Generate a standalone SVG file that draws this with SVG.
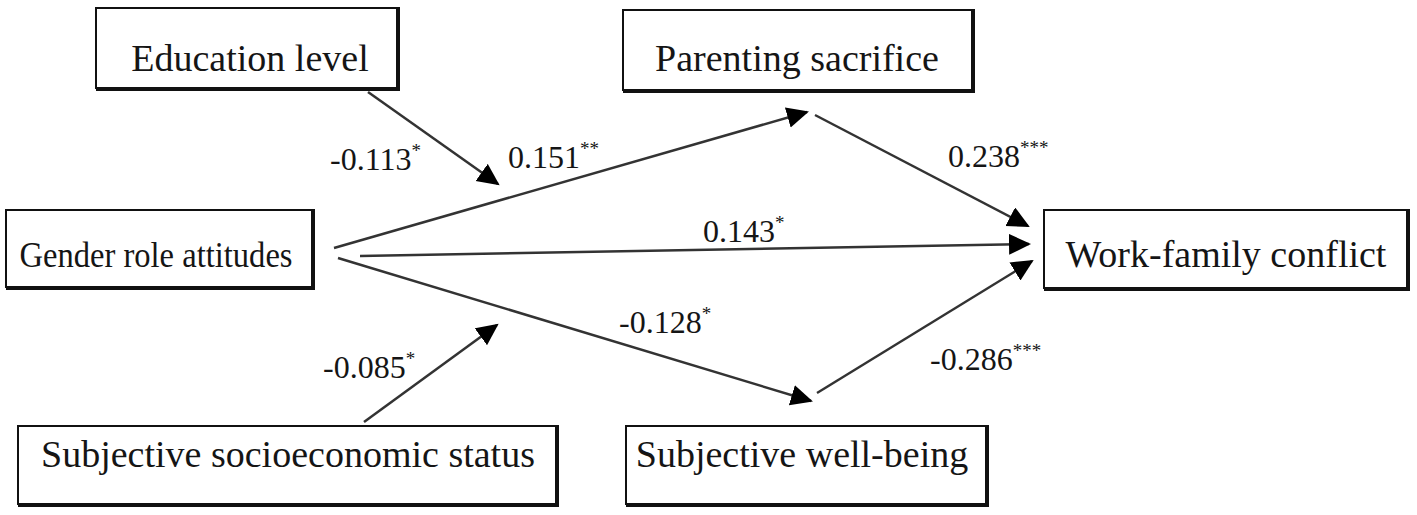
<svg xmlns="http://www.w3.org/2000/svg" width="1417" height="515" viewBox="0 0 1417 515">
<style>
.box{fill:#fff;stroke:#111;stroke-width:2}
.sh{stroke:#111;stroke-width:4;fill:none}
.t{font-family:"Liberation Serif","Times New Roman",serif;font-size:38px;fill:#151515;text-anchor:middle}
.lb{font-family:"Liberation Serif","Times New Roman",serif;font-size:32px;fill:#151515}
.st{font-size:19px}
.c{stroke:#333;stroke-width:2.5;fill:none;marker-end:url(#ah)}
</style>
<defs>
<marker id="ah" markerUnits="userSpaceOnUse" markerWidth="24" markerHeight="22" refX="20" refY="10.5" orient="auto">
<path d="M0,0 L22,10.5 L0,21 Z" fill="#000"/>
</marker>
</defs>
<g id="edu">
<rect class="box" x="96" y="8" width="301" height="80"/>
<path class="sh" d="M398,7 V89 H96"/>
<text class="t" x="250" y="71">Education level</text>
</g>
<g id="parenting">
<rect class="box" x="623" y="10" width="349" height="80"/>
<path class="sh" d="M973,9 V91 H623"/>
<text class="t" x="797" y="71">Parenting sacrifice</text>
</g>
<g id="gra">
<rect class="box" x="6" y="210" width="306" height="77"/>
<path class="sh" d="M313,209 V288 H6"/>
<text class="t" x="156" y="267" style="font-size:36px" textLength="273" lengthAdjust="spacingAndGlyphs">Gender role attitudes</text>
</g>
<g id="wfc">
<rect class="box" x="1044" y="210" width="363" height="78"/>
<path class="sh" d="M1408,209 V289 H1044"/>
<text class="t" x="1226" y="267">Work-family conflict</text>
</g>
<g id="ses">
<rect class="box" x="18" y="426" width="538" height="78"/>
<path class="sh" d="M557,425 V505 H18"/>
<text class="t" x="288" y="467">Subjective socioeconomic status</text>
</g>
<g id="swb">
<rect class="box" x="626" y="426" width="360" height="78"/>
<path class="sh" d="M987,425 V505 H626"/>
<text class="t" x="802" y="467">Subjective well-being</text>
</g>
<g id="connectors">
<line class="c" x1="368" y1="92" x2="498" y2="184"/>
<line class="c" x1="334" y1="248" x2="807" y2="112"/>
<line class="c" x1="360" y1="256" x2="1029" y2="244"/>
<line class="c" x1="338" y1="258" x2="811" y2="401"/>
<line class="c" x1="364" y1="422" x2="497" y2="325"/>
<line class="c" x1="815" y1="115" x2="1028" y2="226"/>
<line class="c" x1="817" y1="393" x2="1032" y2="261"/>
</g>
<g id="labels">
<text class="lb" x="330" y="170">-0.113<tspan class="st" dy="-13">*</tspan></text>
<text class="lb" x="508" y="168">0.151<tspan class="st" dy="-13">**</tspan></text>
<text class="lb" x="948" y="167">0.238<tspan class="st" dy="-13">***</tspan></text>
<text class="lb" x="703" y="242">0.143<tspan class="st" dy="-13">*</tspan></text>
<text class="lb" x="619" y="333">-0.128<tspan class="st" dy="-13">*</tspan></text>
<text class="lb" x="930" y="370">-0.286<tspan class="st" dy="-13">***</tspan></text>
<text class="lb" x="323" y="378">-0.085<tspan class="st" dy="-13">*</tspan></text>
</g>
</svg>
